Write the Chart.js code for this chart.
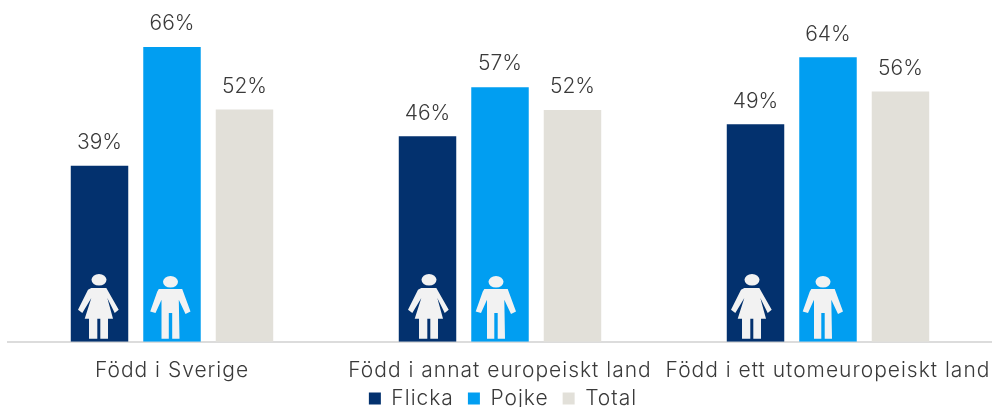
<!DOCTYPE html>
<html>
<head>
<meta charset="utf-8">
<style>
  html, body { margin: 0; padding: 0; background: #fff; overflow: hidden; }
  #wrap { width: 992px; height: 407px; }
</style>
<script src="https://cdn.jsdelivr.net/npm/chart.js@4/dist/chart.umd.min.js"></script>
</head>
<body>
<div id="wrap"><canvas id="chart"></canvas></div>
<script>
var categories = ["Född i Sverige", "Född i annat europeiskt land", "Född i ett utomeuropeiskt land"];
var flicka = [39.4, 46, 48.7];
var pojke = [66, 57, 63.7];
var total = [52, 51.9, 56];

var fontFamily = "Inter, Lato, sans-serif";
var textColor = "#3a3a3a";

// icons are relative to bar centre (x) and baseline (y)
var femaleIcon = [[-7.7,-53.7],[7.3,-53.7],[19.7,-32],[15.7,-28.7],[8.3,-43.7],[14,-23],[9,-23],[9,-3],[1.3,-3],[1.3,-23],[-1.7,-23],[-1.7,-3],[-10,-3],[-10,-23],[-14.3,-23],[-7.7,-43.7],[-16.7,-28.7],[-21,-32],[-11,-52]];
var maleIcon = [[-11.7,-52.7],[11.7,-52.7],[20,-30.3],[15,-27.7],[8.3,-42],[9,-3],[1.7,-3],[1.7,-28.7],[-1.7,-28.7],[-1.7,-3],[-9,-3],[-9,-42],[-15,-28.7],[-20.3,-30.3],[-13.3,-50]];
var iconShift = [[-0.5, -1.5], [1.5, -4], [-3.5, -5]];

function drawIcon(ctx, points, cx, base, headY) {
    ctx.beginPath();
    ctx.ellipse(cx, base + headY, 7.5, 5.8, 0, 0, Math.PI * 2);
    ctx.fill();
    ctx.beginPath();
    points.forEach(function (p, i) {
        if (i === 0) ctx.moveTo(cx + p[0], base + p[1]);
        else ctx.lineTo(cx + p[0], base + p[1]);
    });
    ctx.closePath();
    ctx.fill();
}

var barExtras = {
    id: "barExtras",
    // axis and legend text is spaced wider than the bar labels
    beforeUpdate: function (chart) {
        chart.ctx.letterSpacing = "1px";
    },
    // legend sits closer to the axis labels than its padding allows
    afterLayout: function (chart) {
        chart.legend.top = 374;
        chart.legend.left += 6;
    },
    beforeDraw: function (chart) {
        chart.ctx.letterSpacing = "1px";
    },
    afterDatasetsDraw: function (chart) {
        var ctx = chart.ctx;
        ctx.save();
        ctx.letterSpacing = "0px";
        // percent labels over the bars
        ctx.font = "300 21px " + fontFamily;
        ctx.fillStyle = textColor;
        ctx.textAlign = "center";
        ctx.textBaseline = "middle";
        chart.data.datasets.forEach(function (ds, d) {
            chart.getDatasetMeta(d).data.forEach(function (bar, i) {
                ctx.fillText(Math.round(ds.data[i]) + "%", bar.x, bar.y - 23);
            });
        });
        // person icons in the first two series
        ctx.fillStyle = "#f2f2f2";
        var base = chart.scales.y.getPixelForValue(0);
        chart.getDatasetMeta(0).data.forEach(function (bar, i) {
            drawIcon(ctx, femaleIcon, bar.x + iconShift[i][0], base, -62);
        });
        chart.getDatasetMeta(1).data.forEach(function (bar, i) {
            drawIcon(ctx, maleIcon, bar.x + iconShift[i][1], base, -60);
        });
        ctx.restore();
    }
};

new Chart(document.getElementById("chart"), {
    type: "bar",
    data: {
        labels: categories,
        datasets: [
            { label: "Flicka", data: flicka, backgroundColor: "#03316e" },
            { label: "Pojke", data: pojke, backgroundColor: "#019ef1" },
            { label: "Total", data: total, backgroundColor: "#e2e0d9" }
        ]
    },
    options: {
        responsive: true,
        maintainAspectRatio: false,
        animation: false,
        layout: { padding: { left: 8, right: 0, top: 0, bottom: -37 } },
        categoryPercentage: 0.663,
        barPercentage: 0.793,
        plugins: {
            tooltip: { enabled: false },
            legend: {
                position: "bottom",
                labels: {
                    boxWidth: 12,
                    boxHeight: 12,
                    padding: 14,
                    color: textColor,
                    font: { family: fontFamily, size: 21, weight: "300" }
                }
            }
        },
        scales: {
            x: {
                // long end label must not shrink the plot
                afterFit: function (scale) {
                    scale.paddingLeft = 0;
                    scale.paddingRight = 0;
                },
                grid: { display: false, drawTicks: false },
                border: { color: "#dcdcdc", width: 2 },
                ticks: {
                    autoSkip: false,
                    maxRotation: 0,
                    padding: 16,
                    color: textColor,
                    font: { family: fontFamily, size: 21, weight: "300" }
                }
            },
            y: {
                display: false,
                min: 0,
                max: 76.5
            }
        }
    },
    plugins: [barExtras]
});
</script>
</body>
</html>
